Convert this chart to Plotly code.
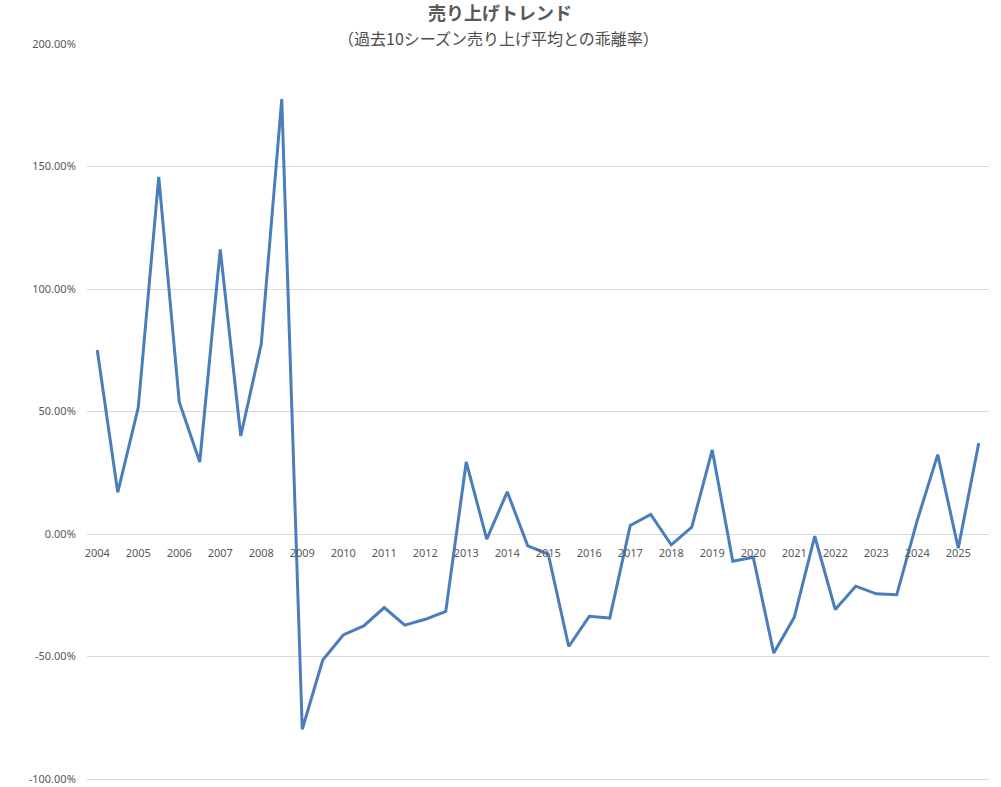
import plotly.graph_objects as go

# half-season points: 2004 first half, 2004 second half, ...
seasons = [2004 + i * 0.5 for i in range(44)]
deviation = [
    0.751, 0.170, 0.516, 1.458, 0.539, 0.294, 1.162, 0.400, 0.775, 1.775,
    -0.797, -0.514, -0.412, -0.375, -0.300, -0.372, -0.348, -0.316, 0.294, -0.021,
    0.172, -0.048, -0.082, -0.459, -0.336, -0.343, 0.035, 0.080, -0.044, 0.028,
    0.343, -0.111, -0.095, -0.486, -0.340, -0.009, -0.308, -0.213, -0.244, -0.248,
    0.056, 0.324, -0.058, 0.371,
]
year_ticks = list(range(2004, 2026))
y_ticks = [-1.0, -0.5, 0.0, 0.5, 1.0, 1.5, 2.0]

title_text = "売り上げトレンド"
subtitle_text = "（過去10シーズン売り上げ平均との乖離率）"

W, H = 1001, 787
L, R, T, B = 87, 12, 44, 6
plot_w = W - L - R
plot_h = H - T - B

fig = go.Figure()

fig.add_trace(go.Scatter(
    x=seasons,
    y=deviation,
    mode="lines",
    line=dict(color="#4a7ebb", width=3),
    showlegend=False,
))

fig.update_layout(
    width=W,
    height=H,
    margin=dict(l=L, r=R, t=T, b=B),
    plot_bgcolor="white",
    paper_bgcolor="white",
    font=dict(family="Noto Sans CJK JP, Noto Sans, sans-serif", color="#595959"),
    title=dict(
        text="<b>" + title_text + "</b>",
        x=500 / W, xref="container", xanchor="center",
        y=1 - 14 / H, yref="container", yanchor="middle",
        pad=dict(t=0, b=0),
        font=dict(size=18, color="#595959"),
    ),
    xaxis=dict(
        range=[2003.75, 2025.75],
        tickvals=year_ticks,
        ticktext=[str(y) for y in year_ticks],
        showgrid=False,
        zeroline=False,
        showline=False,
        anchor="free",
        position=0.3352,
        automargin=False,
        ticks="outside",
        ticklen=9,
        tickcolor="rgba(0,0,0,0)",
        tickfont=dict(size=11, color="#595959", family="Noto Sans, sans-serif"),
    ),
    yaxis=dict(
        range=[-1.008, 2.0],
        tickvals=y_ticks,
        ticktext=[("%.2f%%" % (v * 100)) for v in y_ticks],
        showgrid=True,
        gridcolor="#d9d9d9",
        gridwidth=1,
        zeroline=False,
        showline=False,
        automargin=False,
        ticks="outside",
        ticklen=8,
        tickcolor="rgba(0,0,0,0)",
        tickfont=dict(size=11, color="#595959", family="Noto Sans, sans-serif"),
    ),
)

fig.add_annotation(
    text=subtitle_text,
    xref="paper", yref="paper",
    x=(498 - L) / plot_w, y=1 + (T - 38) / plot_h,
    xanchor="center", yanchor="middle",
    showarrow=False,
    font=dict(size=16, color="#4d4d4d"),
)

# drop the default page margin so the figure fills the window
fig.write_html(
    "out.html",
    config={"displayModeBar": False},
    post_script="document.body.style.margin='0';",
)
